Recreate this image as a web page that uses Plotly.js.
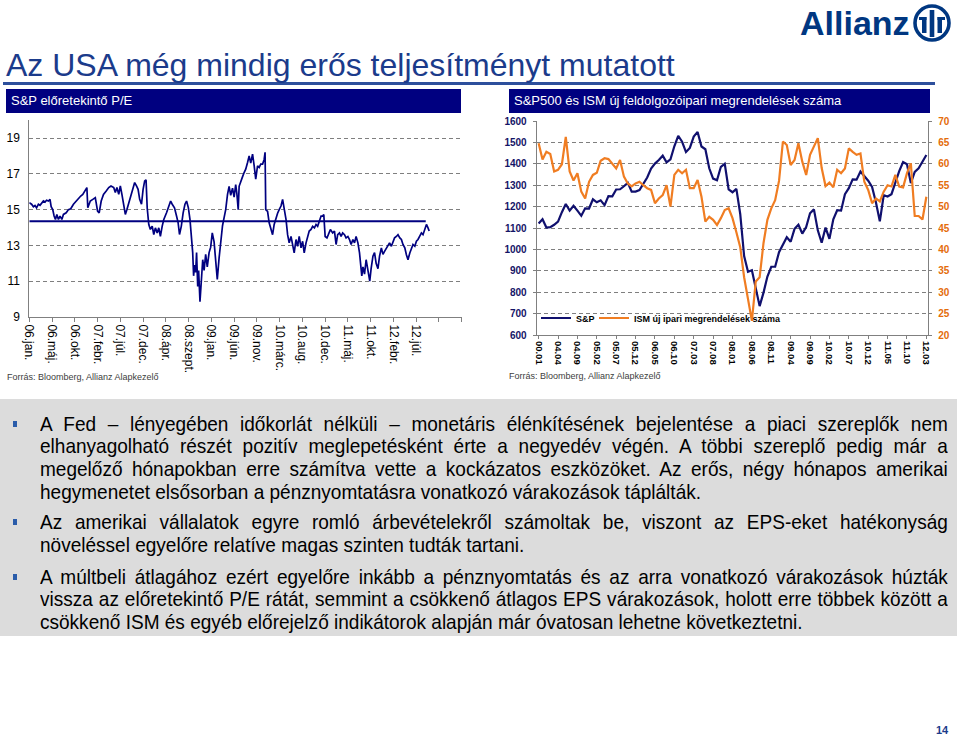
<!DOCTYPE html>
<html><head><meta charset="utf-8">
<script src="https://cdn.plot.ly/plotly-3.0.1.min.js"></script>
<style>
html,body{margin:0;padding:0;background:#fff;width:959px;height:737px;overflow:hidden;font-family:"Liberation Sans",Arial,sans-serif;}
#page{position:relative;width:959px;height:737px;}
.abs{position:absolute;}
#chart{left:0;top:0;width:959px;height:737px;z-index:2;}
#title{left:6px;top:47px;font-size:32px;color:#1b3b8b;white-space:nowrap;z-index:3;}
#rule{left:3px;top:82px;width:932px;height:3px;background:#2d4f9c;}
.hdr{background:#000080;color:#fff;font-size:13px;height:24px;line-height:24px;padding-left:5px;box-sizing:border-box;white-space:nowrap;z-index:3;}
.src{font-size:9px;color:#404040;white-space:nowrap;z-index:3;}
#box{left:0;top:399px;width:957px;height:237px;background:#dcdcdc;z-index:1;}
.ln{position:absolute;left:40px;width:1002px;font-size:21px;line-height:22px;height:22px;color:#000;white-space:nowrap;transform-origin:0 0;transform:scaleX(0.906);}
.jl{text-align:justify;text-align-last:justify;white-space:normal;overflow:hidden;}
.bul{position:absolute;left:13px;width:4px;height:6px;background:#2a5caa;}
#pg{left:936px;top:724px;font-size:11px;font-weight:bold;color:#1b3b8b;z-index:3;}
#logo{left:798px;top:2px;z-index:3;}
</style></head>
<body><div id="page">
<div id="box" class="abs">
  <div class="bul" style="top:22px"></div>
  <div class="ln jl" style="top:14px">A Fed – lényegében időkorlát nélküli – monetáris élénkítésének bejelentése a piaci szereplők nem</div>
  <div class="ln jl" style="top:36px">elhanyagolható részét pozitív meglepetésként érte a negyedév végén. A többi szereplő pedig már a</div>
  <div class="ln jl" style="top:59px">megelőző hónapokban erre számítva vette a kockázatos eszközöket. Az erős, négy hónapos amerikai</div>
  <div class="ln" style="top:82px">hegymenetet elsősorban a pénznyomtatásra vonatkozó várakozások táplálták.</div>
  <div class="bul" style="top:120px"></div>
  <div class="ln jl" style="top:112px">Az amerikai vállalatok egyre romló árbevételekről számoltak be, viszont az EPS-eket hatékonyság</div>
  <div class="ln" style="top:135px">növeléssel egyelőre relatíve magas szinten tudták tartani.</div>
  <div class="bul" style="top:175px"></div>
  <div class="ln jl" style="top:167px">A múltbeli átlagához ezért egyelőre inkább a pénznyomtatás és az arra vonatkozó várakozások húzták</div>
  <div class="ln jl" style="top:189px">vissza az előretekintő P/E rátát, semmint a csökkenő átlagos EPS várakozások, holott erre többek között a</div>
  <div class="ln" style="top:212px">csökkenő ISM és egyéb előrejelző indikátorok alapján már óvatosan lehetne következtetni.</div>
</div>
<div id="chart" class="abs"></div>
<div id="title" class="abs">Az USA még mindig erős teljesítményt mutatott</div>
<div id="rule" class="abs"></div>
<div class="abs hdr" style="left:6px;top:89px;width:455px;">S&amp;P előretekintő P/E</div>
<div class="abs hdr" style="left:509px;top:89px;width:421px;">S&amp;P500 és ISM új feldolgozóipari megrendelések száma</div>
<div class="abs src" style="left:7px;top:372px;">Forrás: Bloomberg, Allianz Alapkezelő</div>
<div class="abs src" style="left:509px;top:371px;">Forrás: Bloomberg, Allianz Alapkezelő</div>
<div id="pg" class="abs">14</div>
<svg id="logo" class="abs" width="158" height="44" viewBox="0 0 158 44">
  <text x="2" y="33" font-family="Liberation Sans, Arial, sans-serif" font-weight="bold" font-size="34" fill="#003781">Allianz</text>
  <circle cx="134" cy="21" r="17" fill="none" stroke="#003781" stroke-width="3.6"/>
  <rect x="124" y="15" width="4.5" height="16" fill="#003781"/>
  <rect x="131.7" y="8" width="4.6" height="27" fill="#003781"/>
  <rect x="139.5" y="15" width="4.5" height="16" fill="#003781"/>
  <rect x="121" y="15" width="7.5" height="3" fill="#003781"/>
  <rect x="139.5" y="15" width="7.5" height="3" fill="#003781"/>
</svg>
</div>
<script>
// ---------- Left chart: S&P forward P/E (trading-day index) ----------
const peTickLabels = ["06.jan.","06.máj.","06.okt.","07.febr.","07.júl.","07.dec.","08.ápr.","08.szept.","09.jan.","09.jún.","09.nov.","10.márc.","10.aug.","10.dec.","11.máj.","11.okt.","12.febr.","12.júl.","",""];
const peTickStep = 100;
const peDay = [
  0,10,18,25,32,40,47,54,62,69,
  76,84,91,96,103,109,115,121,128,135,
  143,150,162,172,182,194,206,216,226,235,
  246,253,257,268,279,290,300,307,316,326,
  338,349,359,371,378,385,393,400,407,415,
  422,429,437,447,456,463,471,478,485,493,
  500,507,513,518,525,532,540,547,554,562,
  569,576,584,591,603,613,621,628,638,647,
  654,660,668,676,684,691,699,706,712,718,
  722,726,731,735,740,744,750,756,762,768,
  775,782,790,797,804,812,819,826,834,841,
  849,856,863,871,878,885,893,900,907,912,
  918,922,929,936,944,951,959,966,973,981,
  988,995,1003,1010,1017,1025,1032,1036,1039,1047,
  1054,1061,1069,1076,1083,1091,1098,1106,1113,1120,
  1128,1135,1142,1150,1157,1164,1172,1179,1186,1194,
  1201,1208,1216,1223,1230,1238,1245,1253,1260,1267,
  1275,1282,1289,1294,1300,1308,1314,1323,1333,1341,
  1348,1355,1363,1370,1377,1385,1392,1400,1407,1414,
  1422,1429,1436,1444,1451,1456,1461,1466,1473,1480,
  1488,1496,1502,1510,1517,1524,1532,1539,1547,1554,
  1561,1569,1576,1583,1591,1598,1605,1613,1620,1628,
  1635,1642,1650,1657,1664,1672,1679,1686,1694,1701,
  1708,1716,1723,1730,1738,1745,1752,1757];
const peValue = [
  15.39,15.30,15.16,15.23,15.10,15.30,15.24,15.39,15.48,15.42,
  15.52,15.48,15.57,15.16,15.00,14.64,14.45,14.73,14.45,14.64,
  14.45,14.73,14.82,15.00,15.05,15.30,15.48,15.67,15.76,15.85,
  16.04,16.23,15.10,15.48,15.57,15.67,14.92,14.82,15.48,15.85,
  16.04,16.23,16.32,16.23,15.95,16.23,15.85,16.32,15.85,15.10,
  14.73,15.00,15.39,15.85,16.32,16.51,16.32,16.13,15.57,15.30,
  16.13,16.60,16.66,15.10,14.17,13.89,14.08,13.61,13.98,13.70,
  13.98,13.51,14.08,14.45,14.82,15.20,15.48,15.30,15.10,14.64,
  14.26,13.61,14.08,14.82,15.30,15.48,15.10,14.45,13.70,12.60,
  11.30,11.90,11.50,12.60,10.70,11.60,9.85,11.20,12.20,11.60,
  12.50,11.80,12.60,12.90,13.70,13.20,12.20,11.10,12.30,13.30,
  14.10,14.55,15.00,15.85,16.30,15.80,16.20,15.70,16.40,15.90,
  15.00,16.30,16.60,16.80,17.07,17.26,17.63,18.00,17.60,18.10,
  17.45,16.70,17.45,17.35,17.54,17.54,17.80,18.20,15.00,14.90,
  14.26,13.98,13.60,14.17,14.55,14.80,15.00,15.20,15.57,15.10,
  14.45,13.60,13.14,13.50,12.95,12.58,13.33,12.95,13.50,12.86,
  13.23,12.58,13.14,13.50,13.80,13.89,14.07,13.98,14.17,14.07,
  14.45,14.64,14.64,14.73,13.50,13.42,13.60,13.89,13.70,13.80,
  13.05,13.60,13.70,13.50,13.70,13.60,13.42,13.50,13.33,13.05,
  13.33,13.14,13.50,13.14,12.58,12.00,11.30,11.80,11.40,12.20,
  11.60,11.00,11.70,12.40,12.60,12.00,11.70,12.40,12.86,12.50,
  12.67,12.86,13.05,13.14,12.95,13.23,13.42,13.50,13.60,13.42,
  13.33,13.05,12.86,12.48,12.20,12.58,12.86,13.05,12.95,13.23,
  13.33,13.50,13.70,13.60,13.89,14.17,13.98,13.80];
const peAverage = 14.35;
const peAverageSpan = [0, 1742];

// ---------- Right chart: S&P500 and ISM new orders (monthly) ----------
const monthTickLabels = ["00.01","04.04","04.09","05.02","05.07","05.12","06.05","06.10","07.03","07.08","08.01","08.06","08.11","09.04","09.09","10.02","10.07","10.12","11.05","11.10","12.03"];
const monthTickStep = 5;
const spx = [
  1121,1141,1102,1104,1115,1130,1174,1212,
  1181,1204,1181,1157,1192,1191,1234,1220,1229,1207,1249,1248,
  1280,1281,1295,1311,1270,1270,1277,1304,1336,1378,1401,1418,
  1438,1407,1421,1482,1531,1503,1455,1474,1527,1549,1481,1468,
  1379,1331,1323,1386,1400,1280,1267,1283,1165,969,896,903,
  826,735,798,873,919,919,987,1021,1057,1036,1096,1115,
  1074,1104,1169,1187,1089,1031,1102,1049,1141,1183,1181,1258,
  1286,1327,1326,1364,1345,1321,1292,1219,1131,1253,1247,1258,
  1312,1366,1408,1398,1310,1362,1379,1407,1441];
const ismNewOrders = [
  64.8,61.0,62.8,62.3,58.2,58.6,59.9,66.3,
  58.2,56.1,57.8,53.5,51.9,55.8,57.4,57.9,60.7,61.3,61.1,60.1,
  58.9,60.9,57.0,55.4,54.7,55.4,55.8,55.0,54.3,53.9,50.8,51.9,
  52.7,55.0,50.0,57.4,58.6,57.8,58.6,54.3,54.3,56.2,52.3,46.5,
  47.6,46.9,45.7,47.3,49.2,49.6,47.3,44.0,40.5,33.5,28.5,23.3,
  32.5,33.5,41.5,46.9,49.6,51.5,56.0,65.2,64.4,59.7,60.9,64.8,
  60.5,57.4,62.1,64.0,66.0,59.0,54.8,55.6,54.5,58.6,57.8,58.9,
  63.6,62.8,62.1,62.4,55.8,53.9,50.8,51.9,51.2,53.5,55.0,54.7,
  57.4,54.7,54.5,57.8,60.1,47.8,47.8,47.0,52.3];
const seriesNames = ["S&P", "ISM új ipari megrendelések száma"];

const monthIdx = spx.map((_, i) => i);
const W = 959, H = 737;
const px = v => v / W, py = v => 1 - v / H;

const navy = "#000080", spNavy = "#10106e", orange = "#f07d22", grid = "#7f7f7f";
const FONT = "Liberation Sans, Arial, sans-serif";

const traces = [
  {x: peDay, y: peValue, xaxis: "x", yaxis: "y", type: "scatter", mode: "lines",
   line: {color: navy, width: 1.7}, showlegend: false, hoverinfo: "skip"},
  {x: peAverageSpan, y: [peAverage, peAverage], xaxis: "x", yaxis: "y", type: "scatter", mode: "lines",
   line: {color: navy, width: 2.2}, showlegend: false, hoverinfo: "skip"},
  {x: monthIdx, y: spx, xaxis: "x2", yaxis: "y2", type: "scatter", mode: "lines",
   line: {color: spNavy, width: 2.2}, name: seriesNames[0], legend: "legend"},
  {x: monthIdx, y: ismNewOrders, xaxis: "x2", yaxis: "y3", type: "scatter", mode: "lines",
   line: {color: orange, width: 2.2}, name: seriesNames[1], legend: "legend2"}
];

const peTickVals = peTickLabels.map((_, i) => i * peTickStep);
const mTickVals = monthTickLabels.map((_, i) => i * monthTickStep);
const legFont = {size: 9, weight: 700, color: "#000"};

const layout = {
  width: W, height: H, margin: {l: 0, r: 0, t: 0, b: 0},
  paper_bgcolor: "rgba(0,0,0,0)", plot_bgcolor: "rgba(0,0,0,0)",
  font: {family: FONT, color: "#000"},
  showlegend: true,
  legend: {orientation: "h", x: px(536), y: py(318), xanchor: "left", yanchor: "middle",
    bgcolor: "rgba(0,0,0,0)", font: legFont, itemwidth: 30},
  legend2: {orientation: "h", x: px(594), y: py(318), xanchor: "left", yanchor: "middle",
    bgcolor: "rgba(0,0,0,0)", font: legFont, itemwidth: 30},
  xaxis: {domain: [px(29.3), px(461.7)], range: [0, 1900], tickvals: peTickVals, ticktext: peTickLabels,
    tickangle: 90, tickfont: {size: 12, color: "#000"}, ticks: "outside", ticklen: 4, tickcolor: "#808080",
    showline: true, linecolor: "#808080", linewidth: 1, showgrid: false, zeroline: false, anchor: "y"},
  yaxis: {domain: [py(317), py(120.1)], range: [9, 20], tick0: 9, dtick: 2, tickmode: "linear",
    tickfont: {size: 12, color: "#000"}, ticks: "", showline: true, linecolor: "#808080", linewidth: 1,
    showgrid: true, gridcolor: grid, griddash: "4px,3px", gridwidth: 1, zeroline: false, anchor: "x", ticklabelstandoff: 6},
  xaxis2: {domain: [px(536.7), px(928.3)], range: [-0.5, 100.5], tickvals: mTickVals, ticktext: monthTickLabels,
    tickangle: 90, tickfont: {size: 9.5, weight: 700, color: "#000"}, ticks: "outside", ticklen: 3, tickcolor: "#808080",
    showline: true, linecolor: "#808080", linewidth: 1, showgrid: false, zeroline: false, anchor: "y2"},
  yaxis2: {domain: [py(335), py(121)], range: [600, 1600], dtick: 100, tick0: 600, tickmode: "linear",
    tickfont: {size: 10, weight: 700, color: "#141466"}, ticks: "outside", ticklen: 3, tickcolor: "#808080",
    showline: true, linecolor: "#808080", linewidth: 1, showgrid: true, gridcolor: grid, griddash: "4px,3px",
    zeroline: false, anchor: "x2", ticklabelstandoff: 4},
  yaxis3: {domain: [py(335), py(121)], range: [20, 70], dtick: 5, tick0: 20, tickmode: "linear", overlaying: "y2", side: "right",
    tickfont: {size: 10, weight: 700, color: "#e46c0a"}, ticks: "outside", ticklen: 3, tickcolor: "#808080",
    showline: true, linecolor: "#808080", linewidth: 1, showgrid: false, zeroline: false, anchor: "x2", ticklabelstandoff: 4}
};

Plotly.newPlot("chart", traces, layout, {staticPlot: true, displayModeBar: false});
</script>
</body></html>
